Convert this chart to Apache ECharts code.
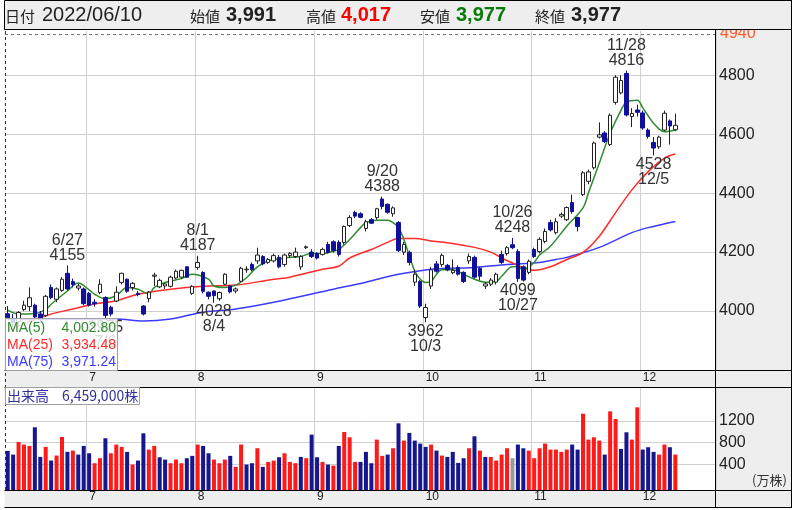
<!DOCTYPE html>
<html>
<head>
<meta charset="utf-8">
<script src="https://cdn.jsdelivr.net/npm/echarts@6/dist/echarts.min.js"></script>
<style>
  html, body { margin: 0; padding: 0; background: #fff; }
  #chart { width: 798px; height: 510px; }
</style>
</head>
<body>
<div id="chart"></div>
<script>
// --- data ---
const YEAR = 2022;
const dates = [
  '6/10','6/13','6/14','6/15','6/16','6/17','6/20','6/21','6/22','6/23','6/24','6/27','6/28','6/29','6/30',
  '7/1','7/4','7/5','7/6','7/7','7/8','7/11','7/12','7/13','7/14','7/15','7/19','7/20','7/21','7/22','7/25','7/26','7/27','7/28','7/29',
  '8/1','8/2','8/3','8/4','8/5','8/8','8/9','8/10','8/12','8/15','8/16','8/17','8/18','8/19','8/22','8/23','8/24','8/25','8/26','8/29','8/30','8/31',
  '9/1','9/2','9/5','9/6','9/7','9/8','9/9','9/12','9/13','9/14','9/15','9/16','9/20','9/21','9/22','9/26','9/27','9/28','9/29','9/30',
  '10/3','10/4','10/5','10/6','10/7','10/11','10/12','10/13','10/14','10/17','10/18','10/19','10/20','10/21','10/24','10/25','10/26','10/27','10/28','10/31',
  '11/1','11/2','11/4','11/7','11/8','11/9','11/10','11/11','11/14','11/15','11/16','11/17','11/18','11/21','11/22','11/24','11/25','11/28','11/29','11/30',
  '12/1','12/2','12/5','12/6','12/7','12/8','12/9'
];
const opens = [
  3991,3975,3965,4005,4015,4020,3990,3985,4080,4040,4070,4128,4100,4078,4075,
  4060,4030,4063,4046,4013,4034,4097,4108,4080,4060,4017,4042,4118,4082,4085,4084,4112,4115,4150,4060,
  4148,4131,4064,4068,4042,4091,4085,4068,4101,4140,4158,4170,4185,4165,4170,4182,4158,4188,4185,4150,4215,4200,
  4195,4192,4226,4235,4233,4233,4290,4334,4330,4280,4310,4317,4380,4362,4330,4300,4200,4199,4098,4100,
  3978,4085,4160,4158,4155,4130,4148,4131,4170,4182,4145,4085,4091,4098,4192,4195,4225,4202,4150,4131,
  4209,4202,4236,4300,4266,4322,4310,4368,4317,4395,4440,4486,4590,4604,4565,4708,4740,4806,4660,4682,
  4672,4614,4572,4557,4614,4645,4615
];
const highs = [
  4017,3990,4000,4035,4080,4025,4000,4055,4090,4080,4115,4155,4110,4092,4080,
  4065,4040,4108,4050,4018,4084,4130,4110,4098,4068,4020,4068,4130,4110,4095,4120,4140,4140,4152,4088,
  4187,4135,4066,4070,4066,4128,4088,4080,4150,4152,4165,4215,4190,4180,4195,4190,4195,4200,4215,4190,4222,4210,
  4200,4215,4235,4240,4240,4290,4325,4340,4335,4310,4315,4350,4388,4365,4355,4305,4235,4205,4140,4105,
  4025,4150,4170,4195,4160,4175,4155,4135,4195,4188,4150,4098,4112,4130,4205,4220,4248,4210,4155,4175,
  4215,4250,4280,4310,4315,4334,4355,4395,4320,4475,4480,4575,4640,4610,4670,4800,4800,4816,4688,4700,
  4680,4620,4590,4595,4680,4650,4670
];
const lows = [
  3977,3945,3955,4000,4000,3975,3960,3980,4040,4030,4065,4070,4080,4070,4020,
  4015,4015,4057,3975,3982,4030,4090,4062,4070,4050,3985,4030,4085,4078,4075,4080,4108,4110,4112,4055,
  4140,4060,4040,4028,4035,4088,4060,4060,4098,4130,4135,4160,4155,4160,4165,4145,4150,4180,4180,4140,4210,4180,
  4175,4188,4195,4198,4185,4225,4285,4315,4315,4270,4295,4310,4345,4330,4320,4200,4190,4155,4085,4010,
  3962,4075,4130,4150,4135,4125,4120,4095,4160,4110,4105,4075,4085,4090,4160,4188,4210,4099,4100,4125,
  4180,4195,4230,4270,4260,4315,4305,4330,4270,4390,4430,4480,4585,4570,4560,4700,4735,4660,4624,4660,
  4615,4585,4528,4550,4610,4565,4610
];
const closes = [
  3977,3960,3995,4020,4045,3980,3972,4050,4046,4075,4108,4075,4090,4085,4025,
  4020,4025,4091,3985,3990,4064,4128,4067,4094,4056,3990,4064,4122,4104,4092,4115,4135,4138,4115,4084,
  4165,4067,4050,4052,4063,4125,4065,4075,4145,4142,4140,4190,4160,4175,4188,4150,4190,4195,4200,4185,4218,4185,
  4180,4209,4199,4205,4192,4287,4317,4322,4318,4303,4298,4347,4355,4335,4350,4205,4226,4165,4125,4017,
  4012,4140,4135,4189,4140,4138,4125,4100,4185,4115,4118,4092,4105,4125,4165,4215,4215,4110,4105,4169,
  4185,4243,4270,4275,4303,4328,4351,4337,4287,4469,4472,4570,4598,4575,4664,4793,4782,4665,4670,4674,
  4621,4592,4553,4590,4671,4628,4630
];
// volume, 万株
const volumes = [
  645.9,578,810,762,737,1080,535,719,468,560,902,628,651,578,737,
  602,419,511,878,602,762,719,627,395,468,969,670,737,529,486,419,486,419,511,554,
  762,737,602,486,419,486,554,352,762,395,419,694,352,443,468,529,602,443,419,535,511,945,
  529,443,395,376,737,994,896,443,443,627,419,853,554,578,694,1153,835,976,835,780,
  719,762,651,560,535,627,425,511,694,914,651,535,535,468,578,694,511,762,694,651,
  511,694,780,670,670,627,670,762,670,1330,853,896,835,578,1373,1233,682,988,853,1447,
  670,713,627,578,762,713,578
];
// moving averages, sampled along the drawn curves
const ma5 = [
  ['6/10',4003],['6/14',3990],['6/17',3992],['6/21',4005],['6/22',4023],['6/27',4068],['6/29',4095],
  ['7/1',4072],['7/4',4057],['7/6',4042],['7/8',4052],['7/12',4080],['7/14',4074],['7/19',4058],['7/20',4080],
  ['7/22',4097],['7/27',4110],['7/29',4125],['8/3',4108],['8/4',4085],['8/8',4080],['8/10',4088],['8/15',4113],
  ['8/17',4150],['8/19',4170],['8/24',4180],['8/29',4185],['8/31',4196],['9/2',4195],['9/6',4203],['9/7',4209],
  ['9/9',4243],['9/13',4283],['9/14',4300],['9/16',4308],['9/21',4308],['9/22',4300],['9/26',4283],['9/27',4243],
  ['9/28',4187],['9/29',4136],['9/30',4108],['10/3',4097],['10/4',4100],['10/5',4125],['10/6',4140],['10/11',4140],
  ['10/13',4125],['10/17',4108],['10/19',4098],['10/21',4100],['10/24',4118],['10/26',4150],['10/27',4150],
  ['10/28',4140],['10/31',4150],['11/1',4165],['11/2',4190],['11/7',4220],['11/10',4288],['11/15',4350],
  ['11/16',4401],['11/18',4502],['11/22',4604],['11/25',4681],['11/28',4709],['11/30',4715],['12/1',4690],
  ['12/5',4637],['12/7',4608],['12/9',4614]
];
const ma25 = [
  ['6/10',3934],['6/21',3984],['6/28',4007],['7/4',4024],['7/8',4035],['7/14',4057],['7/25',4074],['8/2',4084],
  ['8/10',4088],['8/22',4108],['8/25',4115],['9/2',4142],['9/7',4152],['9/9',4180],['9/15',4209],['9/21',4233],
  ['9/26',4246],['9/29',4246],['10/4',4238],['10/7',4232],['10/17',4216],['10/20',4200],['10/24',4180],
  ['10/27',4155],['11/1',4138],['11/7',4150],['11/10',4175],['11/15',4199],['11/18',4254],['11/24',4334],
  ['11/29',4411],['12/2',4473],['12/7',4519],['12/9',4533]
];
const ma75 = [
  ['6/10',3971],['7/8',3973],['7/15',3966],['7/25',3973],['8/2',3996],['8/10',4007],['8/22',4030],['9/6',4074],
  ['9/14',4098],['9/26',4125],['10/4',4142],['10/7',4145],['10/17',4148],['10/25',4158],['11/2',4165],
  ['11/8',4175],['11/10',4182],['11/18',4216],['11/29',4266],['12/2',4283],['12/9',4304]
];
const maNames = ['MA(5)', 'MA(25)', 'MA(75)'];
const maLegendValues = [4002.80, 3934.48, 3971.24];
const highMarks = [['6/27',4155],['8/1',4187],['9/20',4388],['10/26',4248],['11/28',4816]];
const lowMarks = [['7/6',3975],['8/4',4028],['10/3',3962],['10/27',4099],['12/5',4528]];
const cursorPrice = 4940;

// --- layout / style ---
const EMPTY_SLOTS = 7;
const VOL_FOOT = 4;
const GRID_COLOR = '#d0d0d0';
const MA_COLORS = ['#2e8b2e', '#ff2b2b', '#3b3bff'];
const VOL_COLORS = { '1': '#ff1a1a', '-1': '#16168e', '0': '#9a9a9a' };
const NUM_FONT = '"Liberation Sans", Arial, sans-serif';
const JP_FONT = '"Noto Sans CJK JP", sans-serif';

const categories = dates.concat(Array.from({ length: EMPTY_SLOTS }, () => ''));
const monthOf = d => (d ? d.split('/')[0] : '');
const isMonthStart = categories.map((d, i) =>
  i > 0 && d !== '' && monthOf(d) !== monthOf(categories[i - 1]));

const candles = dates.map((d, i) => [opens[i], closes[i], lows[i], highs[i]]);
const volData = volumes.map((v, i) => {
  const prev = i ? closes[i - 1] : opens[0];
  return [i, v, Math.sign(closes[i] - prev)];
});

const fmt = n => n.toLocaleString('en-US');
const fmt2 = n => n.toLocaleString('en-US', { minimumFractionDigits: 2, maximumFractionDigits: 2 });
const [mm, dd] = dates[0].split('/');
const firstDay = `${YEAR}/${mm.padStart(2, '0')}/${dd.padStart(2, '0')}`;

function monthAxis(gridIndex, margin) {
  return {
    type: 'category', gridIndex, data: categories, boundaryGap: true,
    axisLine: { show: false }, axisTick: { show: false },
    axisLabel: {
      interval: i => isMonthStart[i], formatter: v => monthOf(v),
      align: 'left', margin, color: '#222', fontSize: 12, fontFamily: NUM_FONT
    },
    splitLine: { show: true, interval: i => isMonthStart[i], lineStyle: { color: GRID_COLOR, width: 1 } }
  };
}

function maLine(name, data, color) {
  return {
    name, type: 'line', xAxisIndex: 0, yAxisIndex: 0, data,
    smooth: 0.35, symbol: 'none', z: 2, silent: true,
    lineStyle: { color, width: 1.5 }
  };
}

function txt(text, x, y, extra) {
  return {
    type: 'text', x, y, silent: true, z: 101,
    style: Object.assign({ text, fill: '#222', align: 'left', verticalAlign: 'middle', font: `15px ${JP_FONT}` }, extra)
  };
}
function hline(y, x1, x2) {
  return { type: 'line', silent: true, z: 60, shape: { x1, y1: y, x2, y2: y }, style: { stroke: '#000', lineWidth: 1 } };
}
function vline(x, y1, y2) {
  return { type: 'line', silent: true, z: 60, shape: { x1: x, y1, x2: x, y2 }, style: { stroke: '#000', lineWidth: 1 } };
}

const valueFont = `bold 20px ${NUM_FONT}`;
const graphics = [
  // backgrounds
  { type: 'rect', silent: true, z: -20, shape: { x: 4.5, y: 30, width: 787, height: 478 }, style: { fill: '#eeeeee' } },
  { type: 'rect', silent: true, z: -19, shape: { x: 5, y: 30, width: 711, height: 340 }, style: { fill: '#ffffff' } },
  { type: 'rect', silent: true, z: -19, shape: { x: 5, y: 388, width: 711, height: 102 }, style: { fill: '#ffffff' } },
  // frame
  hline(370.5, 4.5, 791.5), hline(387.5, 4.5, 791.5), hline(490.5, 4.5, 791.5), hline(507.5, 4.5, 791.5),
  vline(715.5, 30, 508), vline(791.5, 0, 508),
  { type: 'line', silent: true, z: 60, shape: { x1: 5.5, y1: 31, x2: 5.5, y2: 490 },
    style: { stroke: '#333', lineWidth: 1, lineDash: [3, 3] } },
  // header
  { type: 'rect', silent: true, z: 100, shape: { x: 4.5, y: 0.5, width: 787, height: 29 },
    style: { fill: '#eeeeee', stroke: '#000', lineWidth: 1 } },
  txt('日付', 5, 16),
  txt(firstDay, 42, 15, { font: `20px ${NUM_FONT}` }),
  txt('始値', 190, 16),
  txt(fmt(opens[0]), 226, 15, { font: valueFont }),
  txt('高値', 306, 16),
  txt(fmt(highs[0]), 341, 15, { font: valueFont, fill: '#ff0000' }),
  txt('安値', 420, 16),
  txt(fmt(lows[0]), 456, 15, { font: valueFont, fill: '#0a7a0a' }),
  txt('終値', 535, 16),
  txt(fmt(closes[0]), 571, 15, { font: valueFont }),
  // MA legend
  { type: 'rect', silent: true, z: 100, shape: { x: 5.5, y: 318.5, width: 112, height: 52 },
    style: { fill: 'rgba(255,255,255,0.82)', stroke: '#a0a0a0', lineWidth: 1 } },
  // volume legend
  { type: 'rect', silent: true, z: 100, shape: { x: 5.5, y: 387.5, width: 134, height: 17 },
    style: { fill: 'rgba(255,255,255,0.85)', stroke: '#a0a0a0', lineWidth: 1 } },
  txt('出来高', 7, 396, { font: `14px ${JP_FONT}`, fill: '#2f2f9f' }),
  txt(fmt(Math.round(volumes[0] * 10000)) + '株', 62, 396, { font: `14px ${JP_FONT}`, fill: '#2f2f9f' }),
  txt('(万株)', 752, 480, { font: `13px ${JP_FONT}`, fill: '#333' })
];
maNames.forEach((name, k) => {
  const y = 328 + k * 17;
  graphics.push(txt(name, 7, y, { font: `14px ${NUM_FONT}`, fill: MA_COLORS[k] }));
  graphics.push(txt(fmt2(maLegendValues[k]), 116, y, { font: `14px ${NUM_FONT}`, fill: MA_COLORS[k], align: 'right' }));
});

const markLabel = { color: '#333', fontSize: 16, fontFamily: NUM_FONT, lineHeight: 15 };
const markPoints = highMarks.map(([d, v]) => ({
  coord: [d, v], value: v,
  label: Object.assign({ formatter: `${d}\n${v}`, position: 'top', distance: 2 }, markLabel)
})).concat(lowMarks.map(([d, v]) => ({
  coord: [d, v], value: v,
  label: Object.assign({ formatter: `${v}\n${d}`, position: 'bottom', distance: 1 }, markLabel)
})));

const chart = echarts.init(document.getElementById('chart'));
chart.setOption({
  animation: false,
  backgroundColor: '#ffffff',
  grid: [
    { left: 5, right: 82, top: 31, bottom: 140, outerBoundsMode: 'none', containLabel: false },
    { left: 5, right: 82, top: 399, bottom: 24, outerBoundsMode: 'none', containLabel: false },
    { left: 5, right: 82, top: 387, bottom: 20, outerBoundsMode: 'none', containLabel: false }
  ],
  xAxis: [
    monthAxis(0, 2),
    { type: 'category', gridIndex: 1, data: categories, boundaryGap: true, show: false },
    monthAxis(2, 1)
  ],
  yAxis: [
    {
      type: 'value', gridIndex: 0, position: 'right', min: 3800, max: 4950, interval: 200,
      axisLine: { show: false }, axisTick: { show: false },
      axisLabel: { margin: 3, color: '#222', fontSize: 16, fontFamily: NUM_FONT,
        formatter: v => (v > 3800 && v % 200 === 0 ? String(v) : '') },
      splitLine: { show: true, showMinLine: false, showMaxLine: false, lineStyle: { color: GRID_COLOR } }
    },
    {
      type: 'value', gridIndex: 1, position: 'right', min: 0, max: 1600, interval: 400,
      axisLine: { show: false }, axisTick: { show: false },
      axisLabel: { margin: 3, color: '#222', fontSize: 16, fontFamily: NUM_FONT,
        formatter: v => (v > 0 && v < 1600 ? String(v) : '') },
      splitLine: { show: true, showMinLine: false, showMaxLine: false, lineStyle: { color: GRID_COLOR } }
    },
    { type: 'value', gridIndex: 2, show: false }
  ],
  series: [
    maLine('MA(75)', ma75, MA_COLORS[2]),
    maLine('MA(25)', ma25, MA_COLORS[1]),
    maLine('MA(5)', ma5, MA_COLORS[0]),
    {
      name: '株価', type: 'candlestick', xAxisIndex: 0, yAxisIndex: 0, data: candles,
      barWidth: 4, z: 3, silent: true,
      itemStyle: { color: '#ffffff', color0: '#10109a', borderColor: '#222', borderColor0: '#10109a', borderWidth: 1 },
      markPoint: {
        silent: true, symbol: 'circle', symbolSize: 1,
        itemStyle: { color: 'rgba(0,0,0,0)' },
        data: markPoints
      },
      markLine: {
        silent: true, symbol: ['none', 'none'],
        lineStyle: { type: [3, 3], color: '#777', width: 1 },
        label: { show: true, position: 'end', distance: 4, formatter: () => String(cursorPrice),
          color: '#ff5a2a', fontSize: 16, fontFamily: NUM_FONT },
        data: [{ yAxis: cursorPrice }]
      }
    },
    {
      name: '出来高', type: 'custom', xAxisIndex: 1, yAxisIndex: 1, data: volData,
      dimensions: ['idx', 'vol', 'dir'], encode: { x: 0, y: 1 }, clip: false, silent: true,
      renderItem(params, api) {
        const idx = api.value(0);
        const top = api.coord([idx, api.value(1)]);
        const base = api.coord([idx, 0]);
        const w = api.size([1, 0])[0] * 0.74;
        return {
          type: 'rect',
          shape: { x: top[0] - w / 2, y: top[1], width: w, height: base[1] - top[1] + VOL_FOOT },
          style: { fill: VOL_COLORS[api.value(2)] }
        };
      }
    }
  ],
  graphic: { elements: graphics }
});
</script>
</body>
</html>
